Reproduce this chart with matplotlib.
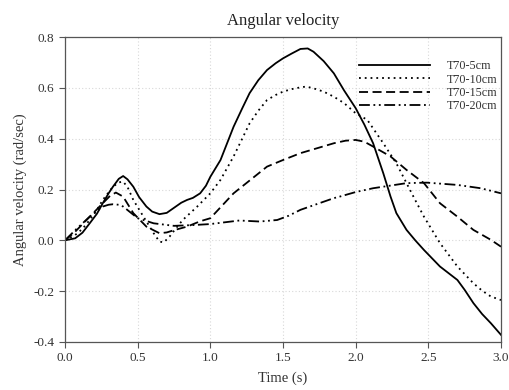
import numpy as np
import matplotlib.pyplot as plt

plt.rcParams['font.family'] = ['Liberation Serif', 'DejaVu Serif']

# values
t_5 = [0.0, 0.07, 0.12, 0.17, 0.22, 0.26, 0.30, 0.33, 0.37, 0.40, 0.43, 0.47, 0.51, 0.56, 0.60,
       0.65, 0.70, 0.75, 0.80, 0.84, 0.88, 0.93, 0.97, 1.0, 1.07, 1.16, 1.22, 1.27, 1.33, 1.39,
       1.45, 1.50, 1.56, 1.62, 1.67, 1.71, 1.78, 1.85, 1.92, 2.0, 2.06, 2.12, 2.19, 2.24, 2.28,
       2.35, 2.41, 2.47, 2.58, 2.70, 2.75, 2.81, 2.87, 2.93, 3.0]
v_5 = [0.0, 0.008, 0.03, 0.067, 0.105, 0.146, 0.185, 0.211, 0.242, 0.253, 0.24, 0.211, 0.17,
       0.133, 0.113, 0.103, 0.108, 0.128, 0.148, 0.159, 0.167, 0.185, 0.215, 0.25, 0.316, 0.447,
       0.52, 0.579, 0.63, 0.67, 0.697, 0.716, 0.735, 0.753, 0.755, 0.742, 0.705, 0.657, 0.59,
       0.52, 0.455, 0.382, 0.264, 0.172, 0.107, 0.041, 0.0, -0.038, -0.103, -0.156, -0.195,
       -0.247, -0.29, -0.326, -0.372]

t_10 = [0.0, 0.07, 0.12, 0.17, 0.22, 0.26, 0.33, 0.37, 0.40, 0.43, 0.47, 0.54, 0.61, 0.65, 0.68,
        0.72, 0.76, 0.81, 0.91, 1.0, 1.07, 1.16, 1.27, 1.33, 1.39, 1.45, 1.50, 1.56, 1.62, 1.66,
        1.71, 1.78, 1.85, 1.92, 2.0, 2.08, 2.19, 2.28, 2.35, 2.41, 2.47, 2.58, 2.70, 2.81, 2.87,
        2.93, 3.0]
v_10 = [0.0, 0.021, 0.045, 0.08, 0.12, 0.159, 0.211, 0.228, 0.231, 0.21, 0.159, 0.093, 0.028,
        -0.005, -0.008, 0.015, 0.045, 0.08, 0.133, 0.185, 0.238, 0.33, 0.46, 0.51, 0.552, 0.572,
        0.585, 0.595, 0.602, 0.605, 0.598, 0.585, 0.565, 0.54, 0.50, 0.474, 0.382, 0.303, 0.225,
        0.158, 0.093, -0.011, -0.103, -0.169, -0.198, -0.221, -0.235]

t_15 = [0.0, 0.07, 0.17, 0.26, 0.31, 0.35, 0.40, 0.47, 0.56, 0.65, 0.70, 0.75, 0.84, 0.93, 1.0,
        1.16, 1.39, 1.50, 1.62, 1.85, 1.93, 2.0, 2.06, 2.12, 2.24, 2.35, 2.47, 2.58, 2.70, 2.81,
        2.93, 3.0]
v_15 = [0.0, 0.034, 0.093, 0.146, 0.175, 0.188, 0.172, 0.107, 0.054, 0.028, 0.031, 0.04, 0.054,
        0.075, 0.087, 0.185, 0.29, 0.316, 0.343, 0.382, 0.392, 0.395, 0.388, 0.369, 0.33, 0.277,
        0.225, 0.146, 0.093, 0.041, 0.002, -0.025]

t_20 = [0.0, 0.07, 0.17, 0.26, 0.30, 0.33, 0.37, 0.40, 0.50, 0.61, 0.75, 0.88, 1.0, 1.20, 1.34,
        1.46, 1.54, 1.62, 1.85, 1.89, 2.0, 2.12, 2.35, 2.49, 2.70, 2.86, 3.0]
v_20 = [0.0, 0.04, 0.093, 0.133, 0.14, 0.142, 0.14, 0.133, 0.087, 0.067, 0.057, 0.06, 0.064,
        0.078, 0.074, 0.08, 0.097, 0.12, 0.166, 0.172, 0.19, 0.205, 0.225, 0.227, 0.218, 0.205,
        0.185]

labels = ['T70-5cm', 'T70-10cm', 'T70-15cm', 'T70-20cm']
xticks = [0.0, 0.5, 1.0, 1.5, 2.0, 2.5, 3.0]
yticks = [-0.4, -0.2, 0.0, 0.2, 0.4, 0.6, 0.8]

fig = plt.figure(figsize=(5.09, 3.9), dpi=100)
ax = fig.add_axes([0.1277, 0.1231, 0.8566, 0.782])

ax.plot(t_5, v_5, color='black', lw=1.3, ls='-', label=labels[0])
ax.plot(t_10, v_10, color='black', lw=1.3, ls=(0, (1, 2.2)), label=labels[1])
ax.plot(t_15, v_15, color='black', lw=1.3, ls=(0, (5, 2.5)), label=labels[2])
ax.plot(t_20, v_20, color='black', lw=1.3, ls=(0, (6, 2, 1, 2, 1, 2)), label=labels[3])

ax.set_xlim(0, 3)
ax.set_ylim(-0.4, 0.8)
ax.set_xticks(xticks)
ax.set_yticks(yticks)
ax.set_xticklabels([f'{x:.1f}' for x in xticks])
ax.set_yticklabels([f'{y:.1f}' for y in yticks])
ax.grid(True, color='#d8d8d8', ls=(0, (1, 2)), lw=0.8)
ax.tick_params(direction='out', length=4, width=0.8, color='#555555', labelsize=9.5,
               labelcolor='#333333')
for s in ax.spines.values():
    s.set_color('#555555')
    s.set_linewidth(0.9)

ax.set_title('Angular velocity', fontsize=12, color='#222222', pad=9)
ax.set_xlabel('Time (s)', fontsize=10.5, color='#333333', labelpad=5)
ax.set_ylabel('Angular velocity (rad/sec)', fontsize=10.5, color='#333333', labelpad=5)

leg = ax.legend(loc='upper right', frameon=False, fontsize=8.7, handlelength=5.8,
                handletextpad=1.4, labelspacing=0.12, bbox_to_anchor=(1.016, 0.96))
for txt in leg.get_texts():
    txt.set_color('#333333')

fig.savefig('out.png', dpi=100)
